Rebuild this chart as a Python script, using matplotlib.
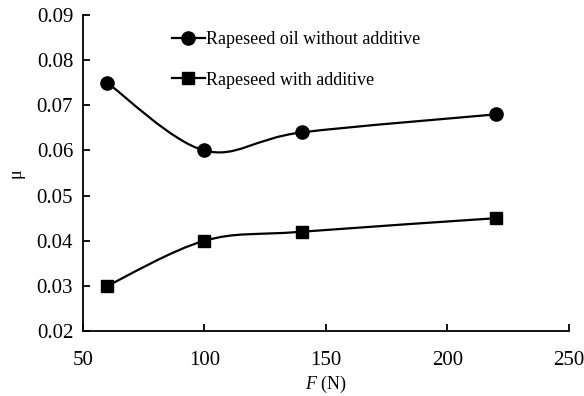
import numpy as np
import matplotlib
matplotlib.use("Agg")
import matplotlib.pyplot as plt
from matplotlib.path import Path
from matplotlib.patches import PathPatch
from matplotlib.lines import Line2D

force = [60, 100, 140, 220]
mu_without = [0.075, 0.060, 0.064, 0.068]
mu_with = [0.030, 0.040, 0.042, 0.045]
labels = ["Rapeseed oil without additive", "Rapeseed with additive"]

plt.rcParams["font.family"] = ["Liberation Serif", "DejaVu Serif"]
plt.rcParams["mathtext.fontset"] = "custom"
plt.rcParams["mathtext.it"] = "Liberation Serif:italic"
plt.rcParams["mathtext.rm"] = "Liberation Serif"


def smooth_path(x, y):
    """Catmull-Rom style smoothing, like a spreadsheet 'smoothed line'"""
    pts = np.column_stack([x, y]).astype(float)
    verts = [pts[0]]
    codes = [Path.MOVETO]
    n = len(pts)
    for i in range(n - 1):
        p0 = pts[i - 1] if i > 0 else pts[i]
        p1 = pts[i]
        p2 = pts[i + 1]
        p3 = pts[i + 2] if i + 2 < n else pts[i + 1]
        c1 = p1 + (p2 - p0) / 6.0
        c2 = p2 - (p3 - p1) / 6.0
        verts += [c1, c2, p2]
        codes += [Path.CURVE4] * 3
    return Path(verts, codes)


fig = plt.figure(figsize=(5.84, 3.96), dpi=100)
ax = fig.add_axes([0.142, 0.164, 0.832, 0.798])

for ys, mk, ms in [(mu_without, "o", 9.5), (mu_with, "s", 8.5)]:
    ax.add_patch(PathPatch(smooth_path(force, ys), facecolor="none",
                           edgecolor="black", lw=1.6, zorder=2))
    ax.plot(force, ys, linestyle="none", marker=mk, ms=ms, color="black", zorder=3)

ax.set_xlim(50, 250)
ax.set_ylim(0.02, 0.09)
ax.set_xticks([50, 100, 150, 200, 250])
ax.set_yticks(np.arange(0.02, 0.0901, 0.01))
ax.yaxis.set_major_formatter(matplotlib.ticker.FormatStrFormatter("%.2f"))
ax.spines["top"].set_visible(False)
ax.spines["right"].set_visible(False)
for s in ("left", "bottom"):
    ax.spines[s].set_linewidth(1.3)
ax.tick_params(direction="in", length=5, width=1.3, labelsize=15)
ax.tick_params(axis="x", pad=14)
ax.tick_params(axis="y", pad=7)

ax.set_xlabel(r"$F$ (N)", fontsize=13, labelpad=3)
ax.set_ylabel("μ", fontsize=13, labelpad=9)

handles = [
    Line2D([], [], color="black", lw=1.6, marker="o", ms=9.5),
    Line2D([], [], color="black", lw=1.6, marker="s", ms=8.5),
]
ax.legend(handles, labels, loc="upper left", bbox_to_anchor=(0.15, 1.0),
          frameon=False, fontsize=13, handlelength=1.8, handletextpad=0.1,
          labelspacing=1.3)

fig.savefig("out.png", dpi=100)
